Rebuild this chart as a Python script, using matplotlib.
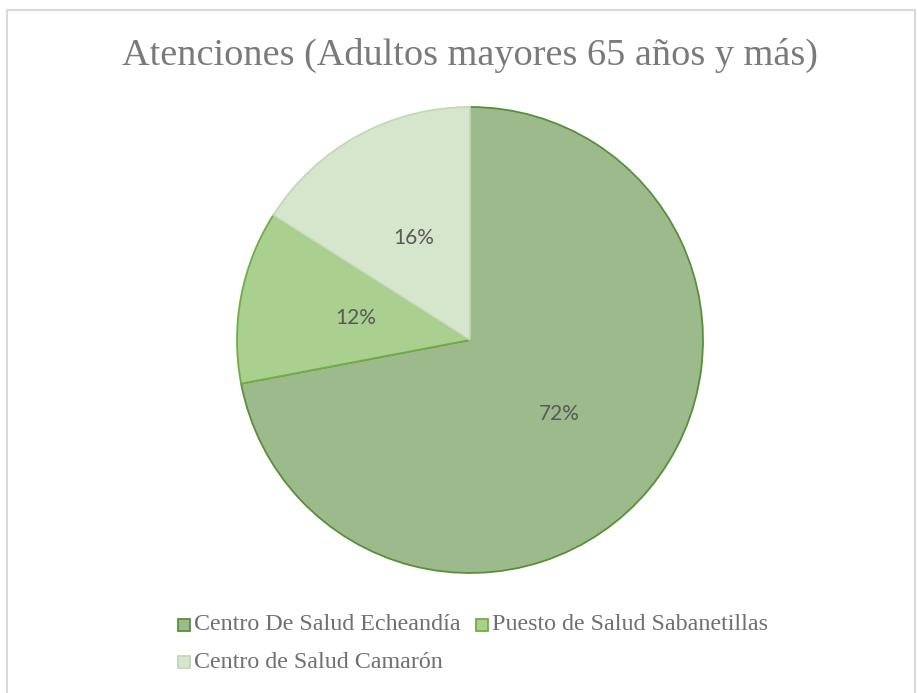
import matplotlib
matplotlib.use("Agg")
import matplotlib.pyplot as plt
import matplotlib.patches as mpatches
import numpy as np

# data
labels = ["Centro De Salud Echeandía", "Puesto de Salud Sabanetillas", "Centro de Salud Camarón"]
values = [72, 12, 16]
title = "Atenciones (Adultos mayores 65 años y más)"

fills = ["#9dba8c", "#a9d08e", "#d6e6cd"]
edges = ["#5a8f3a", "#70ad47", "#c3d9b6"]

fig = plt.figure(figsize=(9.17, 6.93), dpi=100)
fig.patch.set_facecolor("white")

# chart border (bottom is cut off in the reference)
W, H = 917, 693
border = plt.Line2D([7 / W, 7 / W, 915 / W, 915 / W], [0, 1 - 10 / H, 1 - 10 / H, 0],
                    transform=fig.transFigure, color="#d9d9d9", lw=1.5)
fig.add_artist(border)

# pie axes: center (470, 340), radius ~233 px
r = 233
cx, cy = 470, 340
ax = fig.add_axes([(cx - r) / W, 1 - (cy + r) / H, 2 * r / W, 2 * r / H])
wedges, texts = ax.pie(values, startangle=90, counterclock=False, colors=fills,
                       radius=1.0, wedgeprops=dict(linewidth=1.3))
for w, ec in zip(wedges, edges):
    w.set_edgecolor(ec)
ax.set_xlim(-1, 1)
ax.set_ylim(-1, 1)
ax.set_aspect("equal")
ax.axis("off")

# percentage labels
for w, v in zip(wedges, values):
    ang = np.deg2rad((w.theta1 + w.theta2) / 2)
    ax.text(0.5 * np.cos(ang), 0.5 * np.sin(ang), "%d%%" % v, ha="center", va="center",
            fontsize=15, color="#595959", family=["Lato", "DejaVu Sans"])

fig.text(470 / W, 1 - 55 / H, title, ha="center", va="center", fontsize=27.5,
         color="#7a7a7a", family=["Liberation Serif"])

leg_items = [(178, 625, 0), (476, 625, 1), (178, 662, 2)]
for x, y, i in leg_items:
    fig.patches.append(mpatches.Rectangle((x / W, 1 - (y + 6) / H), 12 / W, 12 / H,
                                          transform=fig.transFigure, facecolor=fills[i],
                                          edgecolor=edges[i], lw=1.3))
    fig.text((x + 16) / W, 1 - y / H, labels[i], ha="left", va="center", fontsize=17.3,
             color="#707070", family=["Liberation Serif"])

fig.savefig("out.png", dpi=100)
